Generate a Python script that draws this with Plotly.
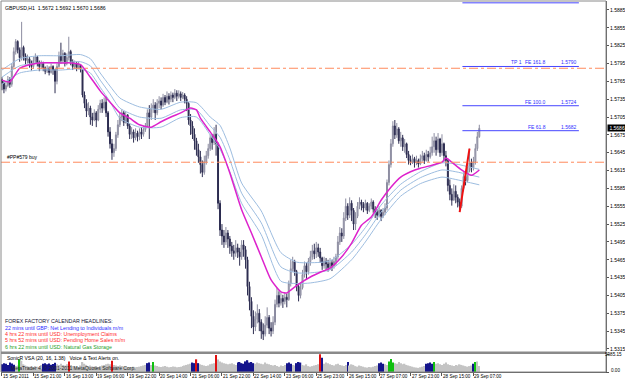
import plotly.graph_objects as go

# ---------------- data (prices in pips: 5762 -> 1.5762) ----------------
HEADER = "GBPUSD,H1  1.5672 1.5692 1.5670 1.5686"
FIRST_OPEN = 5768
CLOSE = [
    5762, 5752, 5758, 5768, 5760, 5790, 5815, 5832, 5818, 5805,
    5822, 5808, 5800, 5803, 5796, 5790, 5800, 5806, 5796, 5790,
    5795, 5788, 5782, 5786, 5780, 5790, 5784, 5765, 5790, 5808,
    5800, 5812, 5795, 5805, 5815, 5798, 5790, 5795, 5788, 5792,
    5785, 5742, 5728, 5715, 5720, 5705, 5700, 5712, 5700, 5718,
    5728, 5720, 5730, 5712, 5680, 5660, 5645, 5652, 5675, 5692,
    5705, 5712, 5696, 5708, 5690, 5676, 5680, 5670, 5678, 5672,
    5680, 5676, 5684, 5690, 5712, 5705, 5720, 5725, 5712, 5728,
    5732, 5725, 5738, 5730, 5740, 5735, 5742, 5738, 5745, 5740,
    5744, 5738, 5742, 5735, 5728, 5700, 5690, 5676, 5665, 5650,
    5638, 5625, 5612, 5630, 5640, 5652, 5670, 5662, 5676, 5660,
    5560, 5515, 5505, 5495, 5510, 5500, 5488, 5480, 5476, 5485,
    5478, 5470, 5490, 5482, 5465, 5420, 5395, 5370, 5352, 5365,
    5375, 5360, 5345, 5340, 5355, 5368, 5350, 5345, 5360, 5390,
    5405, 5392, 5400, 5395, 5402, 5398, 5425, 5450, 5462, 5445,
    5420, 5405, 5418, 5440, 5455, 5445, 5462, 5470, 5480, 5475,
    5485, 5478, 5468, 5455, 5462, 5458, 5452, 5460, 5455, 5462,
    5470, 5495, 5510, 5505, 5535, 5555, 5540, 5560, 5548, 5525,
    5538, 5555, 5562, 5558, 5552, 5560, 5548, 5555, 5562, 5550,
    5545, 5540, 5548, 5538, 5545, 5552, 5595, 5625, 5660, 5690,
    5675, 5685, 5665, 5670, 5655, 5660, 5642, 5632, 5630, 5635,
    5628, 5632, 5626, 5635, 5640, 5632, 5642, 5638, 5645, 5655,
    5665, 5650, 5668, 5645, 5660, 5640, 5632, 5590, 5575, 5565,
    5580, 5570, 5562, 5555, 5585, 5605, 5598, 5615, 5628, 5620,
    5630, 5652, 5672, 5686,
]
HIGH = [
    5772, 5766, 5765, 5774, 5772, 5795, 5822, 5836, 5834, 5822,
    5865, 5825, 5812, 5810, 5806, 5800, 5806, 5812, 5808, 5800,
    5800, 5798, 5790, 5792, 5790, 5795, 5792, 5786, 5795, 5815,
    5830, 5818, 5814, 5812, 5840, 5818, 5802, 5800, 5798, 5798,
    5794, 5786, 5748, 5735, 5730, 5724, 5712, 5718, 5715, 5725,
    5734, 5735, 5738, 5740, 5715, 5688, 5668, 5660, 5680, 5700,
    5712, 5718, 5715, 5714, 5710, 5694, 5688, 5684, 5686, 5682,
    5686, 5688, 5690, 5695, 5718, 5725, 5728, 5735, 5730, 5735,
    5740, 5738, 5744, 5742, 5748, 5745, 5748, 5746, 5752, 5750,
    5750, 5748, 5747, 5745, 5740, 5730, 5710, 5698, 5686, 5670,
    5660, 5648, 5632, 5640, 5648, 5660, 5676, 5676, 5688, 5692,
    5662, 5565, 5525, 5515, 5520, 5515, 5505, 5495, 5490, 5498,
    5492, 5485, 5498, 5498, 5488, 5470, 5428, 5402, 5380, 5378,
    5390, 5382, 5365, 5358, 5370, 5385, 5372, 5360, 5370, 5398,
    5418, 5412, 5410, 5406, 5410, 5408, 5430, 5465, 5470, 5465,
    5448, 5425, 5425, 5448, 5462, 5460, 5468, 5480, 5490, 5492,
    5495, 5492, 5485, 5470, 5470, 5468, 5465, 5468, 5465, 5470,
    5475, 5505, 5520, 5518, 5545, 5568, 5560, 5570, 5565, 5552,
    5545, 5562, 5570, 5566, 5562, 5566, 5562, 5560, 5568, 5565,
    5555, 5550, 5555, 5550, 5552, 5560, 5600, 5632, 5668, 5698,
    5700, 5695, 5688, 5680, 5675, 5668, 5662, 5648, 5640, 5642,
    5638, 5640, 5635, 5642, 5648, 5645, 5650, 5648, 5655, 5672,
    5678, 5672, 5678, 5670, 5676, 5662, 5648, 5635, 5600, 5585,
    5592, 5590, 5575, 5568, 5590, 5612, 5610, 5625, 5652, 5635,
    5638, 5660, 5680, 5692,
]
LOW = [
    5750, 5745, 5748, 5755, 5754, 5756, 5788, 5810, 5812, 5798,
    5800, 5800, 5793, 5795, 5788, 5783, 5786, 5796, 5790, 5782,
    5786, 5782, 5777, 5779, 5775, 5778, 5776, 5745, 5760, 5788,
    5795, 5796, 5790, 5792, 5800, 5792, 5784, 5786, 5782, 5785,
    5780, 5738, 5720, 5705, 5708, 5692, 5690, 5698, 5688, 5698,
    5712, 5712, 5716, 5705, 5672, 5652, 5633, 5638, 5648, 5670,
    5688, 5698, 5690, 5694, 5685, 5668, 5668, 5662, 5666, 5664,
    5666, 5668, 5672, 5680, 5688, 5668, 5700, 5712, 5700, 5708,
    5720, 5718, 5722, 5725, 5728, 5726, 5730, 5730, 5735, 5732,
    5736, 5732, 5735, 5728, 5715, 5692, 5675, 5668, 5650, 5640,
    5628, 5610, 5604, 5608, 5625, 5635, 5648, 5650, 5658, 5640,
    5550, 5505, 5490, 5485, 5490, 5485, 5475, 5470, 5465, 5470,
    5468, 5455, 5465, 5470, 5450, 5405, 5380, 5350, 5340, 5345,
    5358, 5345, 5332, 5330, 5336, 5350, 5340, 5336, 5340, 5355,
    5385, 5385, 5388, 5384, 5390, 5385, 5396, 5420, 5445, 5438,
    5412, 5395, 5400, 5415, 5435, 5432, 5440, 5455, 5465, 5466,
    5468, 5470, 5460, 5448, 5450, 5448, 5445, 5448, 5446, 5450,
    5455, 5465, 5490, 5495, 5500, 5530, 5532, 5535, 5530, 5515,
    5515, 5535, 5550, 5548, 5545, 5548, 5542, 5545, 5550, 5544,
    5535, 5532, 5536, 5530, 5535, 5540, 5548, 5590, 5620, 5655,
    5668, 5670, 5660, 5655, 5648, 5645, 5636, 5625, 5624, 5626,
    5620, 5624, 5620, 5624, 5630, 5626, 5630, 5630, 5635, 5640,
    5645, 5640, 5645, 5638, 5640, 5630, 5622, 5580, 5565, 5556,
    5565, 5560, 5553, 5548, 5552, 5580, 5590, 5595, 5612, 5612,
    5615, 5625, 5648, 5670,
]

VOLUME = [
    2600, 3000, 2800, 2400, 3200, 2900, 2500, 2000, 2200, 4300,
    3800, 2600, 2200, 2000, 1800, 1900, 1700, 2000, 1800, 1600,
    2400, 2800, 3000, 2600, 2900, 2500, 2700, 3100, 2600, 2400,
    2800, 2400, 2200, 2600, 3600, 2400, 2000, 1800, 1900, 1700,
    2200, 3400, 2800, 2400, 2000, 2200, 1900, 1800, 2000, 1700,
    2000, 2200, 2400, 2600, 2800, 2600, 3800, 2400, 2200, 2000,
    2200, 2000, 1800, 1900, 1700, 1600, 1500, 1800, 1600, 1700,
    1800, 2000, 2200, 2400, 3000, 3200, 2400, 3400, 2200, 2000,
    1800, 1700, 1900, 2000, 1800, 1600, 1700, 1900, 1800, 1600,
    1700, 1800, 2000, 2200, 2400, 2600, 2800, 3200, 3000, 4300,
    3000, 2600, 2400, 2200, 2000, 2200, 2600, 2800, 3000, 5800,
    4200, 3600, 3200, 3000, 2800, 2600, 2800, 3000, 2600, 2400,
    3200, 3400, 3000, 2800, 3600, 4000, 3200, 3400, 3000, 2800,
    3200, 3000, 2800, 2600, 3200, 2800, 2600, 2400, 2200, 2400,
    2000, 1800, 2200, 2000, 2400, 3000, 3200, 2800, 2400, 2200,
    3000, 3400, 3200, 2400, 2200, 2600, 2000, 1800, 2000, 2200,
    2400, 2600, 5985, 4800, 2800, 3200, 3000, 2600, 2400, 2200,
    2600, 2800, 2400, 2200, 2000, 2400, 3400, 2200, 2600, 2400,
    2000, 1800, 2200, 2000, 1800, 1600, 1500, 1700, 1600, 1800,
    2000, 2200, 3000, 3200, 2800, 2600, 2400, 3600, 4400, 3200,
    3000, 2800, 3400, 3000, 2600, 2800, 2400, 2200, 2000, 1800,
    1600, 1500, 1400, 1600, 1800, 2000, 2800, 3000, 3200, 2800,
    3400, 2800, 3000, 2600, 2400, 2800, 3200, 2600, 2400, 2200,
    2000, 2400, 2200, 2600, 2400, 2200, 2000, 1800, 2000, 2200,
    2800, 3400, 3600, 2000,
]
# g = grey, b = blue, r = red, n = green (VSA colouring)
VOL_CODES = (
    "bbbbbbbggn" "gggggggggg" "gbbbbbbbgg" "ggggrggggg" "gggggggggg"
    "ggggggrggg" "gggggggggg" "ggggbbgngg" "gggggggggg" "gggggggbbr"
    "bggggggggr" "gggggggggg" "bbbbbbbbbg" "gggggggggg" "gggggbbbgg"
    "bbbggggggg" "ggrbgggggg" "ggggggbggg" "gggggggggg" "ggbbbggnnn"
    "gggggggggg" "ggggggbbbb" "nggggggggg" "gggggggggg" "bngg"
)
VOL_MAX_LABEL = "5985.15"
VOL_MIN_LABEL = "0.00"
VOL_MAX = 5985.15

# fast moving average (magenta), read at sample bars
MAG_I = [0, 4, 9, 14, 19, 30, 35, 40, 45, 50, 55, 60, 65, 70, 76, 81, 86, 91, 96, 99,
         101, 106, 109, 111, 116, 122, 127, 132, 137, 142, 145, 147, 152, 157, 162,
         167, 173, 178, 183, 188, 193, 198, 203, 208, 213, 219, 224, 226, 229, 234, 239, 243]
MAG_P = [5767, 5764, 5787, 5793, 5796, 5796, 5796, 5793, 5772, 5749, 5730, 5712, 5703,
         5692, 5688, 5697, 5705, 5712, 5720, 5717, 5703, 5680, 5666, 5655, 5611, 5549,
         5510, 5470, 5431, 5411, 5409, 5414, 5426, 5436, 5444, 5451, 5470, 5493, 5523,
         5537, 5565, 5587, 5604, 5613, 5619, 5624, 5629, 5636, 5629, 5616, 5607, 5616]

# slow channel (light blue): middle line and half width, read at sample bars
BAND_I = [0, 9, 19, 30, 40, 45, 50, 55, 60, 70, 81, 91, 99, 106, 111, 116, 122, 132,
          142, 150, 157, 167, 178, 185, 193, 203, 213, 224, 231, 243]
BAND_MID = [5772, 5791, 5796, 5796, 5798, 5791, 5767, 5744, 5720, 5705, 5703, 5717,
            5717, 5690, 5671, 5633, 5577, 5527, 5453, 5443, 5443, 5448, 5478, 5507,
            5545, 5582, 5603, 5616, 5613, 5604]
BAND_HALF = [12, 12, 12, 12, 12, 12, 12, 13, 17, 17, 15, 13, 12, 15, 20, 20, 17, 20,
             24, 18, 17, 15, 13, 12, 12, 10, 10, 12, 13, 13]

PRICE_TICKS = [1.5885, 1.5855, 1.5825, 1.5795, 1.5765, 1.5735, 1.5705, 1.5675, 1.5645,
               1.5615, 1.5585, 1.5555, 1.5525, 1.5495, 1.5465, 1.5435, 1.5405, 1.5375,
               1.5345, 1.5315]
DATE_LABELS = ["15 Sep 2011", "15 Sep 21:00", "16 Sep 13:00", "19 Sep 06:00",
               "19 Sep 22:00", "20 Sep 14:00", "21 Sep 06:00", "21 Sep 22:00",
               "22 Sep 14:00", "23 Sep 06:00", "25 Sep 23:00", "26 Sep 15:00",
               "27 Sep 07:00", "27 Sep 23:00", "28 Sep 15:00", "29 Sep 07:00"]
DATE_STEP = 16

ORANGE_LEVELS = [1.5787, 1.5629]
ORANGE_LABEL = "#PP#579 buy"
FE_LEVELS = [1.5897, 1.5790, 1.5724, 1.5682]
FE_NAMES = ["", "FE 161.8", "FE 100.0", "FE 61.8"]
FE_TAGS = ["", "TP 1", "", ""]
FE_START, FE_END = 234.4, 293.7
ZZ_I = [233, 238]
ZZ_P = [1.5545, 1.5652]
LAST_PRICE = 1.5686

NEWS_HEAD = "FOREX FACTORY CALENDAR HEADLINES:"
NEWS = [("22 mins until GBP: Net Lending to Individuals m/m", "#2b2bff"),
        ("4 hrs 22 mins until USD: Unemployment Claims", "#ff2a2a"),
        ("5 hrs 52 mins until USD: Pending Home Sales m/m", "#ff2a2a"),
        ("6 hrs 22 mins until USD: Natural Gas Storage", "#1fa01f")]
VSA_TEXT = "SonicR VSA (20, 16, 1.38)   Voice & Text Alerts on."
COPYRIGHT = "MetaTrader 4, \u00a9 2001-2011 MetaQuotes Software Corp."

# ---------------- build ----------------
p = lambda v: 1 + v / 10000.0
n = len(CLOSE)
idx = list(range(n))
opens = [FIRST_OPEN] + CLOSE[:-1]
highs = [max(h, o, c) for h, o, c in zip(HIGH, opens, CLOSE)]
lows = [min(l, o, c) for l, o, c in zip(LOW, opens, CLOSE)]

W, H = 625, 381
ML, MR, MT, MB = 1, 19, 1, 9
plot_h = H - MT - MB
plot_w = W - ML - MR
def py(ypix):  # pixel row -> paper y
    return (H - MB - ypix) / plot_h
def px(xpix):  # pixel column -> paper x
    return (xpix - ML) / plot_w

FONT = "Liberation Sans"
TXT = 5.0
fig = go.Figure()

cmap = {"g": "#c4c4c4", "b": "#14148c", "r": "#e01010", "n": "#10c010"}
fig.add_trace(go.Bar(x=idx, y=VOLUME, yaxis="y2", marker_color=[cmap[c] for c in VOL_CODES],
                     marker_line_width=0, width=0.7, showlegend=False))

band_up = [m + h for m, h in zip(BAND_MID, BAND_HALF)]
band_dn = [m - h for m, h in zip(BAND_MID, BAND_HALF)]
for arr in (band_up, BAND_MID, band_dn):
    fig.add_trace(go.Scatter(x=BAND_I, y=[p(v) for v in arr], mode="lines",
                             line=dict(color="#9dbde0", width=1, shape="spline", smoothing=0.6),
                             showlegend=False, hoverinfo="skip"))

fig.add_trace(go.Candlestick(x=idx, open=[p(v) for v in opens], high=[p(v) for v in highs],
                             low=[p(v) for v in lows], close=[p(v) for v in CLOSE],
                             increasing=dict(line=dict(color="#8c8ca0", width=1), fillcolor="#b8b8c8"),
                             decreasing=dict(line=dict(color="#2c2c50", width=1), fillcolor="#2c2c50"),
                             whiskerwidth=0, showlegend=False))

fig.add_trace(go.Scatter(x=MAG_I, y=[p(v) for v in MAG_P], mode="lines",
                         line=dict(color="#dd22cc", width=1.5, shape="spline", smoothing=0.6),
                         showlegend=False, hoverinfo="skip"))

fig.add_trace(go.Scatter(x=ZZ_I, y=ZZ_P, mode="lines", line=dict(color="#ee1111", width=2),
                         showlegend=False, hoverinfo="skip"))

shapes = []
for lv in ORANGE_LEVELS:
    shapes.append(dict(type="line", xref="x domain", yref="y", x0=0, x1=1, y0=lv, y1=lv,
                       line=dict(color="#ff8a5c", width=1, dash="dashdot")))
for lv in FE_LEVELS:
    shapes.append(dict(type="line", xref="x", yref="y", x0=FE_START, x1=FE_END, y0=lv, y1=lv,
                       line=dict(color="#4646ff", width=1)))
# pane separator and frame
shapes.append(dict(type="rect", xref="paper", yref="paper", x0=0, x1=1, y0=py(354), y1=py(351.5),
                   fillcolor="#8a8a8a", line=dict(width=0)))
shapes.append(dict(type="rect", xref="paper", yref="paper", x0=0, x1=1, y0=0, y1=1,
                   line=dict(color="#8a8a8a", width=1)))

ann = []
small = dict(family=FONT, size=TXT, color="#000000")
ann.append(dict(text=HEADER, xref="paper", yref="paper", x=0.004, y=py(3), xanchor="left",
                yanchor="top", showarrow=False, font=dict(family=FONT, size=5.2, color="#000")))
ann.append(dict(text=ORANGE_LABEL, xref="paper", yref="y", x=0.006, y=ORANGE_LEVELS[1],
                xanchor="left", yanchor="bottom", showarrow=False, font=small, yshift=0))
fe_font = dict(family=FONT, size=TXT, color="#3030ff")
for lv, nm, tg in zip(FE_LEVELS, FE_NAMES, FE_TAGS):
    if not nm:
        continue
    ann.append(dict(text="%.4f" % lv, xref="x", yref="y", x=FE_END, y=lv, xanchor="right",
                    yanchor="bottom", showarrow=False, font=fe_font, yshift=-1))
    ann.append(dict(text=nm, xref="x", yref="y", x=FE_END - 15.5, y=lv, xanchor="right",
                    yanchor="bottom", showarrow=False, font=fe_font, yshift=-1))
    if tg:
        ann.append(dict(text=tg, xref="x", yref="y", x=FE_END - 28, y=lv, xanchor="right",
                        yanchor="bottom", showarrow=False, font=fe_font, yshift=-1))
ann.append(dict(text=NEWS_HEAD, xref="paper", yref="paper", x=0.004, y=py(320.5),
                xanchor="left", yanchor="middle", showarrow=False,
                font=dict(family=FONT, size=5.3, color="#111133")))
for k, (t, c) in enumerate(NEWS):
    ann.append(dict(text=t, xref="paper", yref="paper", x=0.004, y=py(327.5 + 6.4 * k),
                    xanchor="left", yanchor="middle", showarrow=False,
                    font=dict(family=FONT, size=5.3, color=c)))
ann.append(dict(text=VSA_TEXT, xref="paper", yref="paper", x=0.006, y=py(357.5),
                xanchor="left", yanchor="middle", showarrow=False, font=small))
ann.append(dict(text=COPYRIGHT, xref="paper", yref="paper", x=0.013, y=py(368),
                xanchor="left", yanchor="middle", showarrow=False,
                font=dict(family=FONT, size=TXT, color="#222222")))
for k, lab in enumerate(DATE_LABELS):
    ann.append(dict(text=lab, xref="x", yref="paper", x=k * DATE_STEP, y=py(377),
                    xanchor="left", yanchor="middle", showarrow=False,
                    font=dict(family=FONT, size=4.6, color="#000"), xshift=-1))
ann.append(dict(text=" %.4f " % LAST_PRICE, xref="paper", yref="y", x=1, y=LAST_PRICE,
                xanchor="left", yanchor="middle", showarrow=False, bgcolor="#000000",
                font=dict(family=FONT, size=TXT, color="#ffffff"), borderpad=0, xshift=1))
# volume pane scale labels (kept inside the page)
ann.append(dict(text=VOL_MAX_LABEL, xref="paper", yref="y2", x=px(624), y=VOL_MAX,
                xanchor="right", yanchor="middle", showarrow=False,
                font=dict(family=FONT, size=4.6, color="#000")))
ann.append(dict(text=VOL_MIN_LABEL, xref="paper", yref="y2", x=px(609), y=0,
                xanchor="left", yanchor="middle", showarrow=False,
                font=dict(family=FONT, size=4.6, color="#000"), yshift=2))

ymin = 1.59001 - 350 / 5947.0
fig.update_layout(
    width=W, height=H, margin=dict(l=ML, r=MR, t=MT, b=MB, autoexpand=False),
    paper_bgcolor="#ffffff", plot_bgcolor="#ffffff", showlegend=False,
    xaxis=dict(range=[-0.5, 307.5], anchor="y2", showgrid=False, zeroline=False,
               showticklabels=False, ticks="outside", ticklen=3, tickcolor="#555555",
               tickvals=[k * DATE_STEP for k in range(len(DATE_LABELS))], automargin=False,
               showline=True, linecolor="#555555", linewidth=1, rangeslider=dict(visible=False)),
    yaxis=dict(domain=[py(351), 1], range=[ymin, 1.59001], side="right", anchor="x",
               showgrid=False, zeroline=False, tickvals=PRICE_TICKS, automargin=False,
               ticktext=["%.4f" % t for t in PRICE_TICKS], ticks="outside", ticklen=2,
               tickcolor="#555555", tickfont=dict(family=FONT, size=TXT, color="#000000"),
               showline=True, linecolor="#555555", linewidth=1),
    yaxis2=dict(domain=[0, py(354)], range=[0, VOL_MAX * 1.02], side="right", anchor="x",
                showgrid=False, zeroline=False, tickvals=[0, VOL_MAX], automargin=False,
                showticklabels=False, ticks="outside", ticklen=2, tickcolor="#555555",
                showline=True, linecolor="#555555", linewidth=1),
    shapes=shapes, annotations=ann,
)
fig.write_html("out.html")
